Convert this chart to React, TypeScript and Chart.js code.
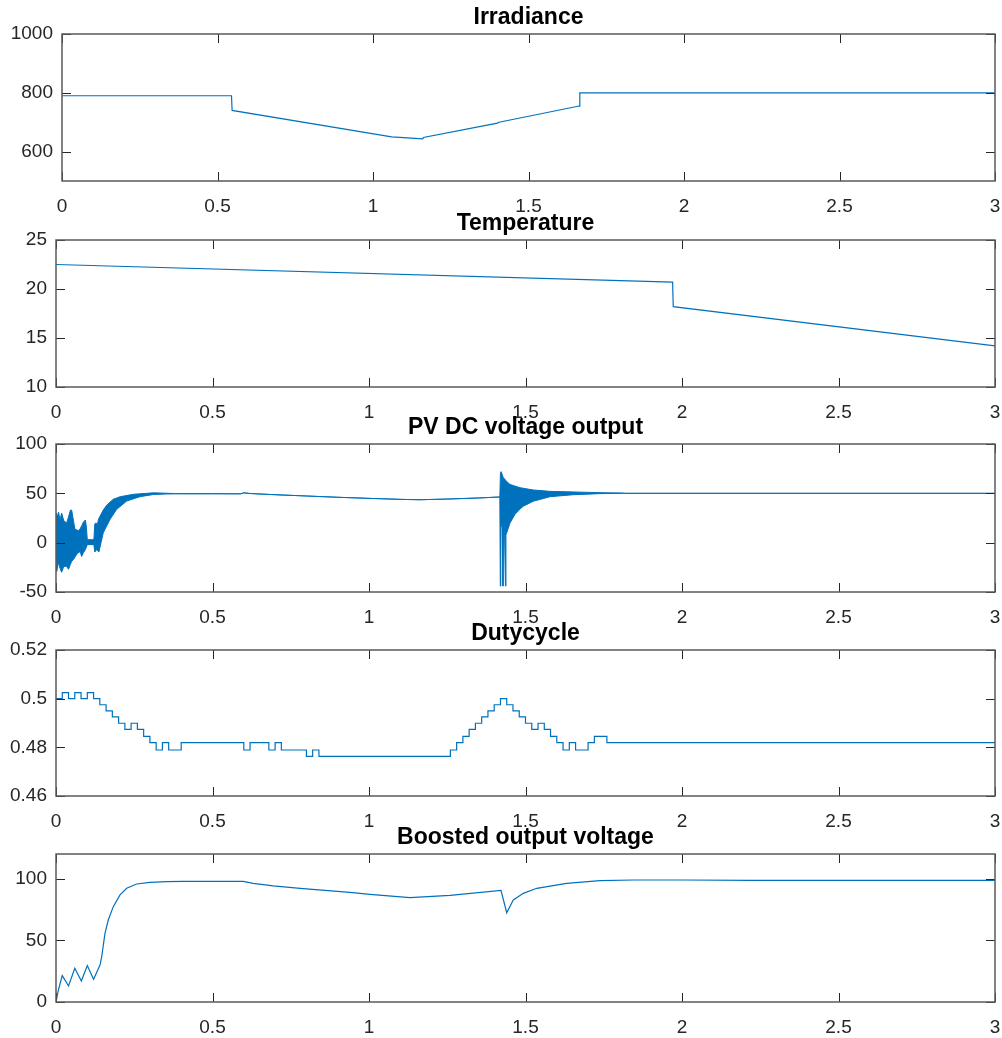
import React, { useEffect, useRef } from "react";
import { Chart, registerables } from "chart.js";

Chart.register(...registerables);

// Shared time axis (seconds)
const timeTicks = [0, 0.5, 1, 1.5, 2, 2.5, 3];

// Irradiance (W/m^2)
const irrTimes = [0, 0.545, 0.547, 1.06, 1.16, 1.162, 1.4, 1.405, 1.663, 1.665, 3];
const irrValues = [790, 790, 740, 650, 643, 648, 697, 700, 755, 800, 800];
const irrTicks = [600, 800, 1000];

// Temperature (deg C)
const tempTimes = [0, 1.97, 1.972, 3];
const tempValues = [22.5, 20.7, 18.2, 14.2];
const tempTicks = [10, 15, 20, 25];

// PV DC voltage: start-up ringing band (upper / lower envelope)
const pvStartUpperT = [0, 0.004, 0.008, 0.013, 0.018, 0.025, 0.034, 0.04, 0.046, 0.05, 0.056, 0.06, 0.066, 0.072, 0.077, 0.082, 0.088, 0.094, 0.097, 0.1, 0.121, 0.124, 0.128, 0.132, 0.136, 0.141, 0.151, 0.162, 0.183, 0.205, 0.247, 0.311];
const pvStartUpperV = [30, 26, 31, 23, 30, 22, 20, 26, 33, 33, 22, 14, 13, 12, 14, 17, 21, 23, 16, 3, 3, 19, 20, 18, 24, 27, 33, 38, 44, 46.6, 49, 50.5];
const pvStartLowerT = [0, 0.002, 0.008, 0.013, 0.018, 0.025, 0.034, 0.04, 0.046, 0.05, 0.056, 0.062, 0.068, 0.077, 0.082, 0.088, 0.094, 0.1, 0.121, 0.124, 0.13, 0.137, 0.151, 0.1725, 0.194, 0.226, 0.268, 0.311, 0.35];
const pvStartLowerV = [-5, -29, -20, -26, -30, -24, -24, -27, -22, -19, -17, -14, -11, -9, -14, -10, -7, -2, -2, -9.5, -7, -9.5, 10, 23.6, 33.8, 42.2, 46.6, 48.8, 49.3];
// PV DC voltage: settled operation before the second transient
const pvSteadyT = [0.4, 0.5, 0.59, 0.6, 0.62, 0.7, 0.8, 0.9, 1.0, 1.1, 1.16, 1.25, 1.35, 1.418];
const pvSteadyV = [49.6, 49.6, 49.5, 50.5, 49.8, 48.6, 47.3, 46, 44.9, 43.9, 43.5, 44.2, 45.3, 46.3];
// PV DC voltage: transient ringing band around t = 1.42 s
const pvTransUpperT = [1.42, 1.422, 1.429, 1.44, 1.4505, 1.4824, 1.525, 1.578, 1.653, 1.738, 1.8125];
const pvTransUpperV = [71, 72, 66, 62, 59, 55.7, 53.4, 52, 51.4, 50.7, 50.3];
const pvTransLowerT = [1.4195, 1.421, 1.425, 1.428, 1.4295, 1.433, 1.436, 1.4375, 1.44, 1.4505, 1.4665, 1.4824, 1.493, 1.525, 1.578, 1.653, 1.738, 1.8125];
const pvTransLowerV = [-44, 20, 15, -44, 12, 10, -44, 8, 10, 20, 28.7, 34, 37, 42, 46.6, 48.6, 49.7, 50];
// PV DC voltage: final settled value
const pvTailT = [1.82, 3];
const pvTailV = [50, 50];
const pvTicks = [-50, 0, 50, 100];

// Duty cycle (value holds from each switching time onward)
const dutyTimes = [0, 0.02, 0.04, 0.06, 0.08, 0.1, 0.12, 0.14, 0.16, 0.18, 0.2, 0.22, 0.24, 0.26, 0.28, 0.3, 0.32, 0.34, 0.36, 0.4, 0.6, 0.62, 0.68, 0.7, 0.72, 0.8, 0.82, 0.84, 1.26, 1.28, 1.3, 1.32, 1.34, 1.36, 1.38, 1.4, 1.42, 1.44, 1.46, 1.48, 1.5, 1.52, 1.54, 1.56, 1.58, 1.6, 1.62, 1.64, 1.66, 1.7, 1.72, 1.76, 3];
const dutyValues = [0.5, 0.5025, 0.5, 0.5025, 0.5, 0.5025, 0.5, 0.4975, 0.495, 0.4925, 0.4899, 0.4874, 0.4899, 0.4874, 0.4845, 0.4819, 0.4789, 0.4819, 0.4789, 0.4819, 0.4789, 0.4819, 0.4789, 0.4819, 0.4789, 0.4763, 0.4789, 0.4763, 0.4789, 0.4819, 0.4845, 0.4874, 0.4899, 0.4925, 0.495, 0.4975, 0.5, 0.4975, 0.495, 0.4925, 0.4899, 0.4874, 0.4899, 0.4874, 0.4845, 0.4819, 0.4789, 0.4819, 0.4789, 0.4819, 0.4845, 0.4819, 0.4819];
const dutyTicks = [0.46, 0.48, 0.5, 0.52];

// Boosted output voltage
const boostTimes = [0, 0.0075, 0.02, 0.04, 0.06, 0.081, 0.1, 0.12, 0.1406, 0.146, 0.1565, 0.167, 0.183, 0.2045, 0.2258, 0.2577, 0.3, 0.3536, 0.407, 0.5985, 0.63, 0.694, 0.78, 0.939, 1.003, 1.131, 1.259, 1.4217, 1.44, 1.461, 1.493, 1.536, 1.631, 1.738, 1.845, 2.004, 2.22, 3];
const boostValues = [0, 9.7, 21.4, 13, 27.3, 17, 29.5, 18.4, 30, 36.8, 55.7, 66.5, 77.3, 86.8, 92.2, 95.7, 97, 97.6, 97.8, 97.8, 96.2, 94.1, 92.2, 88.9, 87.3, 84.6, 86.5, 90.5, 72.4, 82.7, 88.1, 92.2, 96.2, 98.4, 98.9, 98.9, 98.6, 98.6];
const boostTicks = [0, 50, 100];

const LINE = "#0072BD";
const TEXT = "#262626";
const TICK_FONT = { family: "'Liberation Sans', Arial, Helvetica, sans-serif", size: 19 };
const TITLE_FONT = "bold 23px 'Liberation Sans', Arial, Helvetica, sans-serif";

const TITLE_SPACE = 34;
const XAXIS_SPACE = 36;
const PAGE_W = 1002;
const PLOT_RIGHT = 995;

const pts = (xs: number[], ys: number[]) => xs.map((x, i) => ({ x, y: ys[i] }));

// Draws the boxed axes with inward ticks on all four sides, plus the panel title
const axesFrame = {
  id: "axesFrame",
  afterDraw(chart: any, _args: any, opts: any) {
    const { ctx, chartArea: a, scales } = chart;
    const L = 9;
    ctx.save();
    ctx.strokeStyle = TEXT;
    ctx.lineWidth = 1;
    ctx.beginPath();
    for (const t of opts.xTicks) {
      const px = Math.round(scales.x.getPixelForValue(t)) + 0.5;
      ctx.moveTo(px, a.bottom);
      ctx.lineTo(px, a.bottom - L);
      ctx.moveTo(px, a.top);
      ctx.lineTo(px, a.top + L);
    }
    for (const t of opts.yTicks) {
      const py = Math.round(scales.y.getPixelForValue(t)) + 0.5;
      ctx.moveTo(a.left, py);
      ctx.lineTo(a.left + L, py);
      ctx.moveTo(a.right, py);
      ctx.lineTo(a.right - L, py);
    }
    ctx.stroke();
    ctx.strokeStyle = "#5a5a5a";
    ctx.lineWidth = 1.5;
    ctx.strokeRect(a.left, a.top, a.right - a.left, a.bottom - a.top);
    ctx.fillStyle = "#000";
    ctx.font = TITLE_FONT;
    ctx.textAlign = "center";
    ctx.textBaseline = "alphabetic";
    ctx.fillText(opts.title, (a.left + a.right) / 2, a.top - 10);
    ctx.restore();
  },
};

type PanelProps = {
  title: string;
  plotTop: number;
  plotHeight: number;
  plotLeft: number;
  yMin: number;
  yMax: number;
  yTicks: number[];
  datasets: any[];
};

function Panel(p: PanelProps) {
  const ref = useRef<HTMLCanvasElement | null>(null);
  const canvasH = TITLE_SPACE + p.plotHeight + XAXIS_SPACE;

  useEffect(() => {
    if (!ref.current) return;
    const chart = new Chart(ref.current, {
      type: "line",
      data: { datasets: p.datasets },
      plugins: [axesFrame],
      options: {
        responsive: false,
        animation: false,
        devicePixelRatio: 1,
        layout: { padding: { top: TITLE_SPACE, right: PAGE_W - PLOT_RIGHT, left: 0, bottom: 0 } },
        elements: { point: { radius: 0 }, line: { tension: 0 } },
        plugins: {
          legend: { display: false },
          tooltip: { enabled: false },
          title: { display: false },
          axesFrame: { title: p.title, xTicks: timeTicks, yTicks: p.yTicks },
        } as any,
        scales: {
          x: {
            type: "linear",
            min: 0,
            max: 3,
            grid: { display: false, drawTicks: false },
            border: { display: false },
            afterBuildTicks: (s: any) => {
              s.ticks = timeTicks.map((v) => ({ value: v }));
            },
            afterFit: (s: any) => {
              s.height = XAXIS_SPACE;
              s.paddingLeft = 0;
              s.paddingRight = 0;
            },
            ticks: {
              autoSkip: false,
              maxRotation: 0,
              padding: 14,
              color: TEXT,
              font: TICK_FONT,
              callback: (v: any) => String(v),
            },
          },
          y: {
            type: "linear",
            min: p.yMin,
            max: p.yMax,
            grid: { display: false, drawTicks: false },
            border: { display: false },
            afterBuildTicks: (s: any) => {
              s.ticks = p.yTicks.map((v) => ({ value: v }));
            },
            afterFit: (s: any) => {
              s.width = p.plotLeft;
              s.paddingTop = 0;
              s.paddingBottom = 0;
            },
            ticks: {
              autoSkip: false,
              padding: 9,
              color: TEXT,
              font: TICK_FONT,
              callback: (v: any) => String(v),
            },
          },
        },
      } as any,
    });
    return () => chart.destroy();
  }, []);

  return (
    <div style={{ position: "absolute", left: 0, top: p.plotTop - TITLE_SPACE, width: PAGE_W, height: canvasH }}>
      <canvas ref={ref} width={PAGE_W} height={canvasH} style={{ display: "block" }} />
    </div>
  );
}

const lineDs = (data: any[], extra: any = {}) => ({
  data,
  borderColor: LINE,
  backgroundColor: LINE,
  borderWidth: 1.2,
  fill: false,
  pointRadius: 0,
  ...extra,
});

export default function App() {
  const pvUpper = [
    ...pts(pvStartUpperT, pvStartUpperV),
    ...pts(pvSteadyT, pvSteadyV),
    ...pts(pvTransUpperT, pvTransUpperV),
    ...pts(pvTailT, pvTailV),
  ];
  const pvLower = [
    ...pts(pvStartLowerT, pvStartLowerV),
    ...pts(pvSteadyT, pvSteadyV),
    ...pts(pvTransLowerT, pvTransLowerV),
    ...pts(pvTailT, pvTailV),
  ];

  return (
    <div style={{ position: "absolute", left: 0, top: 0, width: PAGE_W, height: 1038, background: "#fff", overflow: "hidden" }}>
      <Panel title="Irradiance" plotTop={34} plotHeight={147} plotLeft={62} yMin={500} yMax={1000} yTicks={irrTicks}
        datasets={[lineDs(pts(irrTimes, irrValues))]} />
      <Panel title="Temperature" plotTop={240} plotHeight={147} plotLeft={56} yMin={10} yMax={25} yTicks={tempTicks}
        datasets={[lineDs(pts(tempTimes, tempValues))]} />
      <Panel title="PV DC voltage output" plotTop={444} plotHeight={148} plotLeft={56} yMin={-50} yMax={100} yTicks={pvTicks}
        datasets={[lineDs(pvUpper, { borderWidth: 1 }), lineDs(pvLower, { borderWidth: 1, fill: "-1" })]} />
      <Panel title="Dutycycle" plotTop={650} plotHeight={146} plotLeft={56} yMin={0.46} yMax={0.52} yTicks={dutyTicks}
        datasets={[lineDs(pts(dutyTimes, dutyValues), { stepped: "before" })]} />
      <Panel title="Boosted output voltage" plotTop={854} plotHeight={148} plotLeft={56} yMin={0} yMax={120} yTicks={boostTicks}
        datasets={[lineDs(pts(boostTimes, boostValues))]} />
    </div>
  );
}
